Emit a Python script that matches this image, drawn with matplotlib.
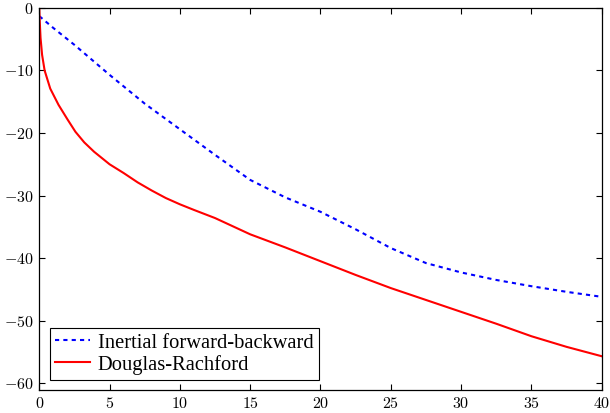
import matplotlib
matplotlib.use("Agg")
import matplotlib.pyplot as plt
from matplotlib.ticker import FuncFormatter, MultipleLocator

plt.rcParams['mathtext.fontset'] = 'cm'

# inertial forward-backward (dashed blue)
ifb_x = [0, 1, 2.5, 5, 7.5, 10, 12.5, 15, 17.5, 20, 22.5, 25, 27.5, 30, 32.5, 35, 37.5, 40]
ifb_y = [-1.3, -3.2, -5.9, -10.7, -15.3, -19.4, -23.5, -27.5, -30.3, -32.6, -35.4, -38.4,
         -40.8, -42.3, -43.5, -44.5, -45.4, -46.2]

# Douglas-Rachford (solid red)
dr_x = [0, 0.03, 0.09, 0.2, 0.38, 0.78, 1.37, 2, 2.57, 3.2, 3.9, 5, 6, 7, 8, 9, 10, 11,
        12.5, 15, 17.5, 20, 22.5, 25, 27.5, 30, 32.5, 35, 37.5, 40]
dr_y = [0, -2.0, -4.8, -7.5, -10.0, -12.9, -15.5, -17.8, -19.8, -21.5, -23.0, -25.0,
        -26.4, -27.9, -29.2, -30.4, -31.4, -32.3, -33.6, -36.2, -38.3, -40.5, -42.7,
        -44.8, -46.7, -48.6, -50.5, -52.5, -54.2, -55.7]

fig = plt.figure(figsize=(6.1, 4.13), dpi=100)
ax = fig.add_axes([0.0644, 0.0557, 0.922, 0.925])

ax.plot(ifb_x, ifb_y, color='blue', lw=1.5, dashes=(2, 2), label='Inertial forward-backward')
ax.plot(dr_x, dr_y, color='red', lw=1.5, label='Douglas-Rachford')

ax.set_xlim(0, 40)
ax.set_ylim(-61.1, 0)
ax.xaxis.set_major_locator(MultipleLocator(5))
ax.yaxis.set_major_locator(MultipleLocator(10))
fmt = FuncFormatter(lambda v, p: r'$%g$' % v)
ax.xaxis.set_major_formatter(fmt)
ax.yaxis.set_major_formatter(fmt)
ax.tick_params(direction='in', length=4, width=0.8, top=True, right=True, labelsize=11.5, pad=4)
for s in ax.spines.values():
    s.set_linewidth(0.9)

leg = ax.legend(loc='lower left', prop={'family': 'Liberation Serif', 'size': 14.8},
                fancybox=False, edgecolor='black', framealpha=1, borderpad=0.25,
                handlelength=1.7, handletextpad=0.4, labelspacing=0.1,
                borderaxespad=0.5)
leg.get_frame().set_linewidth(0.8)

fig.savefig('out.png', dpi=100)
